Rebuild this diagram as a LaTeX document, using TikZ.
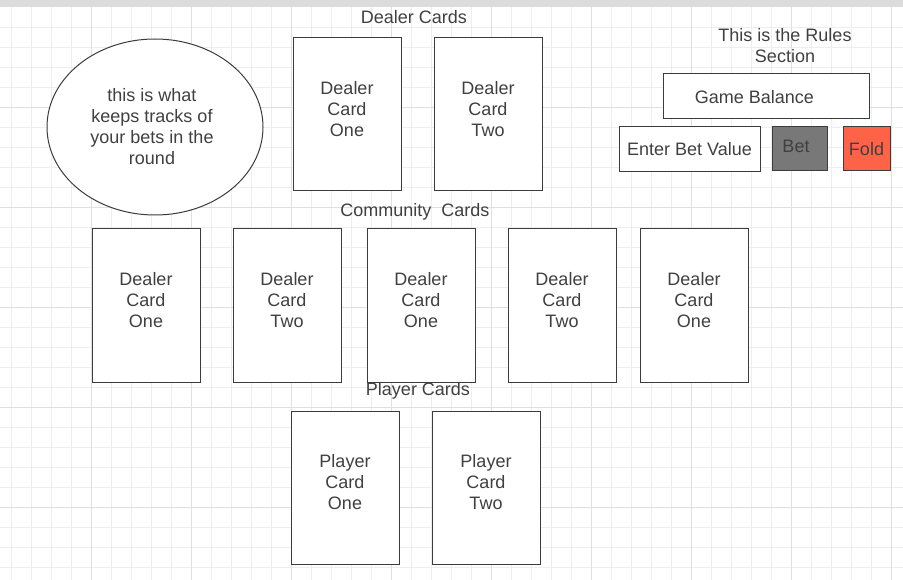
\documentclass[tikz,border=0pt]{standalone}
\usepackage{fontspec}
\setmainfont{Liberation Sans}
\usetikzlibrary{shapes.geometric}
\definecolor{Ink}{HTML}{404040}
\definecolor{Edge}{HTML}{3C3C3C}
\definecolor{GridMinor}{HTML}{EEEEEE}
\definecolor{GridMajor}{HTML}{E0E0E0}
\definecolor{Bar}{HTML}{DCDCDC}
\definecolor{BetGray}{HTML}{787878}
\definecolor{FoldRed}{HTML}{FF6347}
\begin{document}
\begin{tikzpicture}[x=1pt,y=-1pt,
    font=\fontsize{18}{21}\selectfont, text=Ink,
    card/.style={draw=Edge,line width=1pt,fill=white,minimum width=108pt,minimum height=153pt,inner sep=0pt},
    cardtext/.style={align=center,inner sep=0pt},
    btn/.style={draw=Edge,line width=1pt,inner sep=0pt}]
  \useasboundingbox (0,0) rectangle (903,580);
  \fill[white] (0,0) rectangle (903,580);
  % grid paper
  \foreach \x in {11.7,31.7,...,903} {
    \draw[GridMinor,line width=1pt] (\x,7) -- (\x,580);
  }
  \foreach \y in {27.3,47.3,...,580} {
    \draw[GridMinor,line width=1pt] (0,\y) -- (903,\y);
  }
  \foreach \x in {91.7,191.7,...,903} {
    \draw[GridMajor,line width=1pt] (\x,7) -- (\x,580);
  }
  \foreach \y in {107.3,207.3,...,580} {
    \draw[GridMajor,line width=1pt] (0,\y) -- (903,\y);
  }
  \fill[Bar] (0,0) rectangle (903,7);

  % bet tracker
  \node[ellipse,draw=Edge,line width=1pt,fill=white,minimum width=216pt,minimum height=176pt,inner sep=0pt] (tracker) at (155,127) {};
  \node[cardtext] (trackertext) at (152,127) {this is what\\keeps tracks of\\your bets in the\\round};

  % dealer cards
  \node (dealerlab) at (414,17) {Dealer Cards};
  \foreach \n/\x/\word in {1/347/One,2/488/Two} {
    \node[card] (dc\n) at (\x,114.5) {};
    \node[cardtext] (dc\n t) at ([yshift=5.5pt]dc\n.center) {Dealer\\Card\\\word};
  }

  % community cards
  \node (commlab) at (415,212) {Community~~Cards};
  \foreach \n/\x/\word in {1/146/One,2/287/Two,3/421/One,4/562/Two,5/694/One} {
    \node[card] (cc\n) at (\x,305.5) {};
    \node[cardtext] (cc\n t) at ([yshift=5.5pt]cc\n.center) {Dealer\\Card\\\word};
  }

  % player cards
  \node (playerlab) at (418,391) {Player Cards};
  \foreach \n/\x/\word in {1/345/One,2/486/Two} {
    \node[card] (pc\n) at (\x,487.5) {};
    \node[cardtext] (pc\n t) at ([yshift=5.5pt]pc\n.center) {Player\\Card\\\word};
  }

  % rules section
  \node[cardtext] (rules) at (785,45.5) {This is the Rules\\Section};
  \node[btn,fill=white,minimum width=206pt,minimum height=45pt] (balance) at (766,96.5) {};
  \node (balancetext) at (754.5,97) {Game Balance};
  \node[btn,fill=white,minimum width=141pt,minimum height=45pt] (betvalue) at (689.5,149.5) {Enter Bet Value};
  \node[btn,fill=BetGray,minimum width=55pt,minimum height=44pt] (bet) at (799.5,149) {};
  \node (bettext) at (796,146) {Bet};
  \node[btn,fill=FoldRed,minimum width=47pt,minimum height=44pt] (fold) at (866.5,149) {Fold};
\end{tikzpicture}
\end{document}
